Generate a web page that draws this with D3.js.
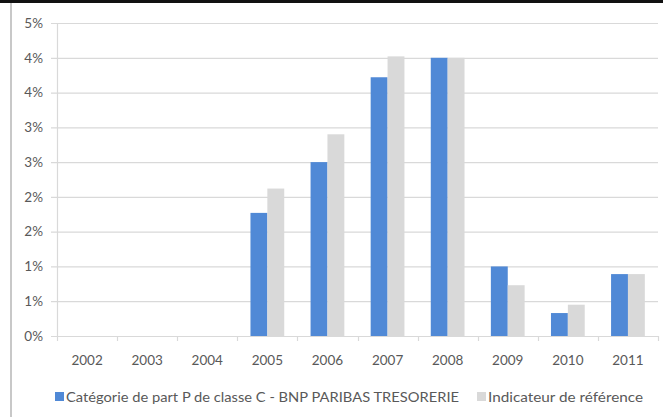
<!DOCTYPE html>
<html><head><meta charset="utf-8">
<script src="https://cdn.jsdelivr.net/npm/d3@7"></script>
<style>
html,body{margin:0;padding:0;background:#fff;}
svg{display:block;}
text{font-family:Lato,"Open Sans",sans-serif;fill:#595959;}
</style></head><body>
<svg id="c" width="663" height="417"></svg>
<script>
const years = ["2002","2003","2004","2005","2006","2007","2008","2009","2010","2011"];
const seriesNames = ["Catégorie de part P de classe C - BNP PARIBAS TRESORERIE","Indicateur de référence"];
const fundValues = [null,null,null,1.77,2.50,3.72,4.00,1.00,0.33,0.89];
const benchValues = [null,null,null,2.12,2.90,4.02,4.00,0.73,0.45,0.89];
const yTicks = [0,0.5,1,1.5,2,2.5,3,3.5,4,4.5];
const yTickLabels = ["0%","1%","1%","2%","2%","3%","3%","4%","4%","5%"];
const colors = ["#5089d6","#d9d9d9"];

const svg = d3.select("#c");
// frame
svg.append("rect").attr("x",0).attr("y",0).attr("width",663).attr("height",3).attr("fill","#111");
svg.append("line").attr("x1",11).attr("x2",11).attr("y1",3).attr("y2",417).attr("stroke","#c8c8c8").attr("stroke-width",2);

const L=57,R=658,T=23,B=336;
const x = d3.scaleBand().domain(years).range([L,R]);
const y = d3.scaleLinear().domain([0,4.5]).range([B,T]);
const inner = d3.scaleBand().domain([0,1]).range([0,x.bandwidth()]).paddingOuter(0.78).paddingInner(0);

// gridlines
svg.append("g").selectAll("line").data(yTicks).join("line")
  .attr("x1",L-6).attr("x2",R).attr("y1",d=>y(d)+0.5).attr("y2",d=>y(d)+0.5)
  .attr("stroke","#d9d9d9").attr("stroke-width",1.2);
// y labels
svg.append("g").selectAll("text").data(yTicks).join("text")
  .attr("x",43).attr("y",d=>y(d)).attr("dy","0.35em").attr("text-anchor","end")
  .attr("font-size","13.5px").text((d,i)=>yTickLabels[i]);
// y axis line
svg.append("line").attr("x1",L+0.5).attr("x2",L+0.5).attr("y1",T).attr("y2",B).attr("stroke","#d9d9d9").attr("stroke-width",1.2);

// bars
const data = [fundValues,benchValues];
data.forEach((vals,si)=>{
  svg.append("g").selectAll("rect").data(years.map((yr,i)=>({yr,v:vals[i]})).filter(d=>d.v!=null)).join("rect")
    .attr("x",d=>x(d.yr)+inner(si)).attr("width",inner.bandwidth())
    .attr("y",d=>y(d.v)).attr("height",d=>B-y(d.v)).attr("fill",colors[si]);
});

// x axis
const xa = d3.axisBottom(x).tickSize(0).tickSizeOuter(0);
const gx = svg.append("g").attr("transform",`translate(0,${B})`).call(xa);
gx.select(".domain").attr("stroke","#d9d9d9").attr("stroke-width",1.2);
gx.selectAll("text").attr("font-size","13.5px").attr("y",24).attr("dy","0.35em").attr("font-family","Lato,'Open Sans',sans-serif").attr("fill","#595959");
const bounds = years.map(d=>x(d)).concat([R]);
svg.append("g").selectAll("line").data(bounds).join("line")
  .attr("x1",d=>Math.round(d)+0.5).attr("x2",d=>Math.round(d)+0.5).attr("y1",B).attr("y2",B+5)
  .attr("stroke","#d9d9d9").attr("stroke-width",1.2);

// legend
const leg = [{x:55,w:393,name:seriesNames[0],c:colors[0]},{x:477,w:155,name:seriesNames[1],c:colors[1]}];
const lg = svg.append("g");
leg.forEach(l=>{
  lg.append("rect").attr("x",l.x).attr("y",392).attr("width",9).attr("height",9).attr("fill",l.c);
  lg.append("text").attr("x",l.x+11).attr("y",397).attr("dy","0.35em").attr("font-size","13.5px")
    .attr("textLength",l.w).attr("lengthAdjust","spacingAndGlyphs").text(l.name);
});
</script></body></html>
